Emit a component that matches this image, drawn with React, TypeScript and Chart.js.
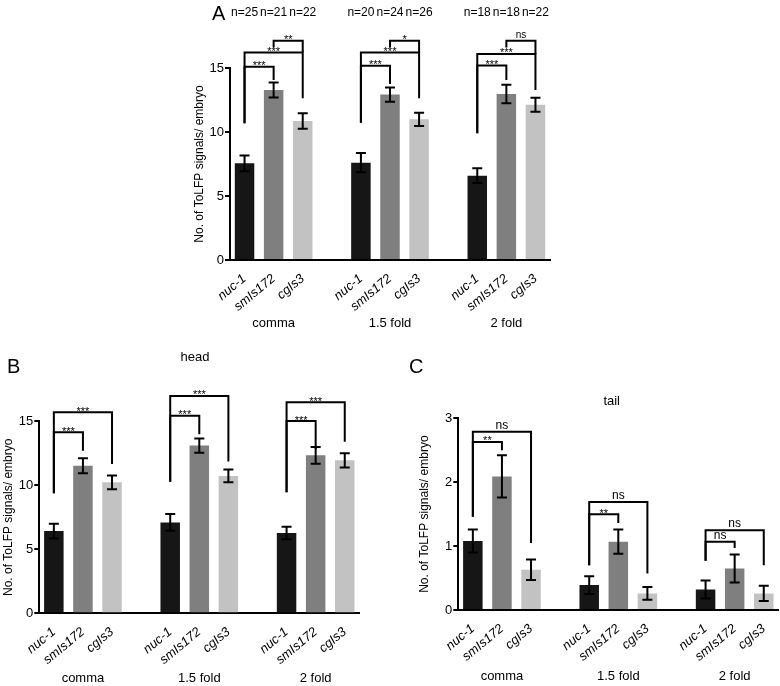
import React, { useEffect, useRef } from 'react';
import { Chart, registerables } from 'chart.js';

Chart.register(...registerables);

const FONT = "'Liberation Sans', Arial, Helvetica, sans-serif";

const stages = ['comma', '1.5 fold', '2 fold'];
const strains = ['nuc-1', 'smIs172', 'cgIs3'];
const strainColors = ['#161616', '#7f7f7f', '#c2c2c2'];
const yAxisLabel = 'No. of ToLFP signals/ embryo';

// Panel A (whole embryo)
const totalMeans = [7.55, 13.28, 10.86, 7.6, 12.92, 10.99, 6.59, 12.97, 12.13];
const totalErrors = [0.62, 0.59, 0.61, 0.75, 0.56, 0.52, 0.57, 0.73, 0.55];
const totalN = [25, 21, 22, 20, 24, 26, 18, 18, 22];
// [from bar, to bar, label, bracket top, left leg end, right leg end] (data units)
const totalBrackets: [number, number, string, number, number, number][] = [
  [0, 1, '***', 15.1, 10.68, 14.06],
  [0, 2, '***', 16.22, 10.68, 12.63],
  [1, 2, '**', 17.13, 16.6, 16.22],
  [3, 4, '***', 15.18, 10.73, 13.75],
  [3, 5, '***', 16.22, 10.73, 12.63],
  [4, 5, '*', 17.13, 16.6, 16.22],
  [6, 7, '***', 15.2, 9.9, 14.06],
  [6, 8, '***', 16.1, 9.9, 13.28],
  [7, 8, 'ns', 17.13, 16.6, 16.1],
];

// Panel B (head)
const headMeans = [6.42, 11.53, 10.23, 7.1, 13.1, 10.73, 6.28, 12.34, 11.95];
const headErrors = [0.58, 0.58, 0.53, 0.65, 0.56, 0.5, 0.49, 0.66, 0.55];
const headBrackets: [number, number, string, number, number, number][] = [
  [0, 1, '***', 14.14, 9.37, 12.7],
  [0, 2, '***', 15.7, 9.37, 11.66],
  [3, 4, '***', 15.44, 10.28, 13.98],
  [3, 5, '***', 16.98, 10.28, 11.85],
  [6, 7, '***', 15.02, 9.45, 12.84],
  [6, 8, '***', 16.48, 9.45, 13.4],
];

// Panel C (tail)
const tailMeans = [1.08, 2.09, 0.63, 0.39, 1.07, 0.26, 0.32, 0.65, 0.26];
const tailErrors = [0.18, 0.33, 0.16, 0.14, 0.19, 0.1, 0.14, 0.22, 0.12];
const tailBrackets: [number, number, string, number, number, number][] = [
  [0, 1, '**', 2.63, 1.46, 2.5],
  [0, 2, 'ns', 2.79, 1.46, 1.05],
  [3, 4, '**', 1.5, 0.7, 1.36],
  [3, 5, 'ns', 1.69, 0.7, 0.57],
  [6, 7, 'ns', 1.07, 0.77, 0.97],
  [6, 8, 'ns', 1.25, 0.77, 0.7],
];

const slotIndex = (k: number) => k + Math.floor(k / 3);

function slotLabels() {
  const out: string[] = [];
  stages.forEach((_, g) => {
    strains.forEach((s) => out.push(s));
    if (g < stages.length - 1) out.push('');
  });
  return out;
}
function slotData(values: number[]) {
  const out: (number | null)[] = [];
  values.forEach((v, k) => {
    out.push(v);
    if (k % 3 === 2 && k < values.length - 1) out.push(null);
  });
  return out;
}
function slotColors() {
  const out: string[] = [];
  stages.forEach((_, g) => {
    strainColors.forEach((c) => out.push(c));
    if (g < stages.length - 1) out.push('rgba(0,0,0,0)');
  });
  return out;
}

const annotPlugin = {
  id: 'annot',
  afterDraw(chart: any) {
    const o = chart.options.plugins.annot;
    if (!o) return;
    const { ctx, chartArea } = chart;
    const xs = chart.scales.x;
    const ys = chart.scales.y;
    const px = (k: number) => xs.getPixelForValue(slotIndex(k));
    ctx.save();
    ctx.strokeStyle = '#000';
    ctx.fillStyle = '#000';
    ctx.lineWidth = 2;
    // error bars
    o.means.forEach((m: number, k: number) => {
      const x = px(k);
      const t = ys.getPixelForValue(m + o.errors[k]);
      const b = ys.getPixelForValue(m - o.errors[k]);
      ctx.beginPath();
      ctx.moveTo(x, t);
      ctx.lineTo(x, b);
      ctx.moveTo(x - 5, t);
      ctx.lineTo(x + 5, t);
      ctx.moveTo(x - 5, b);
      ctx.lineTo(x + 5, b);
      ctx.stroke();
    });
    // significance brackets
    ctx.lineJoin = 'miter';
    o.brackets.forEach(([i, j, label, top, le, re]: [number, number, string, number, number, number]) => {
      const xl = px(i);
      const xr = px(j);
      const yt = ys.getPixelForValue(top);
      ctx.beginPath();
      ctx.moveTo(xl, ys.getPixelForValue(le));
      ctx.lineTo(xl, yt);
      ctx.lineTo(xr, yt);
      ctx.lineTo(xr, ys.getPixelForValue(re));
      ctx.stroke();
      const star = label.includes('*');
      ctx.font = `${star ? o.starSize : o.nsSize}px ${FONT}`;
      ctx.textAlign = 'center';
      ctx.textBaseline = 'alphabetic';
      ctx.fillText(label, (xl + xr) / 2, star ? yt + 2.5 : yt - 3);
    });
    // stage labels
    ctx.font = `13px ${FONT}`;
    ctx.textAlign = 'center';
    ctx.textBaseline = 'middle';
    stages.forEach((s, g) => ctx.fillText(s, px(g * 3 + 1), chartArea.bottom + o.groupDy));
    // n labels
    if (o.n) {
      ctx.font = `12px ${FONT}`;
      o.n.forEach((n: number, k: number) => ctx.fillText('n=' + n, px(k), chartArea.top + o.nDy));
    }
    // subtitle
    if (o.sub) {
      ctx.font = `13px ${FONT}`;
      ctx.fillText(o.sub.text, o.sub.x, o.sub.y);
    }
    // panel letter
    ctx.font = `20px ${FONT}`;
    ctx.textAlign = 'left';
    ctx.textBaseline = 'alphabetic';
    ctx.fillText(o.letter.text, o.letter.x, o.letter.y);
    ctx.restore();
  },
};

type PanelCfg = {
  means: number[];
  yMax: number;
  yStep: number;
  padding: { left: number; right: number; top: number; bottom: number };
  yWidth: number;
  xHeight: number;
  titlePad: number;
  annot: any;
};

function makeConfig(p: PanelCfg): any {
  return {
    type: 'bar',
    data: {
      labels: slotLabels(),
      datasets: [
        {
          data: slotData(p.means),
          backgroundColor: slotColors(),
          borderWidth: 0,
          barPercentage: 0.67,
          categoryPercentage: 1,
        },
      ],
    },
    options: {
      responsive: false,
      animation: false,
      events: [],
      layout: { padding: p.padding },
      plugins: {
        legend: { display: false },
        tooltip: { enabled: false },
        title: { display: false },
        annot: p.annot,
      },
      scales: {
        x: {
          type: 'category',
          grid: { display: false },
          border: { display: true, color: '#000', width: 2 },
          ticks: {
            autoSkip: false,
            minRotation: 40,
            maxRotation: 40,
            padding: 3,
            color: '#000',
            font: { family: FONT, size: 13, style: 'italic' },
          },
          afterFit: (s: any) => {
            s.height = p.xHeight;
          },
        },
        y: {
          min: 0,
          max: p.yMax,
          ticks: { stepSize: p.yStep, padding: 1, color: '#000', font: { family: FONT, size: 13 } },
          grid: { drawOnChartArea: false, drawTicks: true, tickLength: 5, color: '#000', lineWidth: 2 },
          border: { display: true, color: '#000', width: 2 },
          title: {
            display: true,
            text: yAxisLabel,
            color: '#000',
            font: { family: FONT, size: 12 },
            padding: { top: p.titlePad, bottom: 0 },
          },
          afterFit: (s: any) => {
            s.width = p.yWidth;
          },
        },
      },
    },
    plugins: [annotPlugin],
  };
}

const panels = [
  {
    left: 150, top: 0, width: 420, height: 340,
    cfg: {
      means: totalMeans, yMax: 15, yStep: 5,
      padding: { left: 0, right: 20, top: 68, bottom: 0 },
      yWidth: 80, xHeight: 80, titlePad: 42.8,
      annot: {
        means: totalMeans, errors: totalErrors, brackets: totalBrackets,
        starSize: 11, nsSize: 10, groupDy: 63, n: totalN, nDy: -55,
        letter: { text: 'A', x: 62, y: 20 },
      },
    },
  },
  {
    left: 0, top: 340, width: 390, height: 346,
    cfg: {
      means: headMeans, yMax: 15, yStep: 5,
      padding: { left: 0, right: 30.7, top: 81.3, bottom: 0 },
      yWidth: 39.3, xHeight: 72.7, titlePad: 1.1,
      annot: {
        means: headMeans, errors: headErrors, brackets: headBrackets,
        starSize: 11, nsSize: 11, groupDy: 64.7,
        sub: { text: 'head', x: 195, y: 17 },
        letter: { text: 'B', x: 7, y: 33 },
      },
    },
  },
  {
    left: 390, top: 340, width: 390, height: 346,
    cfg: {
      means: tailMeans, yMax: 3, yStep: 1,
      padding: { left: 0, right: 1.7, top: 78.3, bottom: 0 },
      yWidth: 68.3, xHeight: 76, titlePad: 27.8,
      annot: {
        means: tailMeans, errors: tailErrors, brackets: tailBrackets,
        starSize: 11, nsSize: 12, groupDy: 66.7,
        sub: { text: 'tail', x: 221.7, y: 61.7 },
        letter: { text: 'C', x: 19, y: 33 },
      },
    },
  },
];

export default function App() {
  const refs = [useRef<HTMLCanvasElement>(null), useRef<HTMLCanvasElement>(null), useRef<HTMLCanvasElement>(null)];
  useEffect(() => {
    Chart.defaults.font.family = FONT;
    Chart.defaults.color = '#000';
    const charts = panels.map((p, i) => new Chart(refs[i].current as HTMLCanvasElement, makeConfig(p.cfg)));
    return () => charts.forEach((c) => c.destroy());
  }, []);
  return (
    <div style={{ position: 'fixed', left: 0, top: 0, width: 780, height: 686, background: '#fff', overflow: 'hidden' }}>
      {panels.map((p, i) => (
        <canvas
          key={i}
          ref={refs[i]}
          width={p.width}
          height={p.height}
          style={{ position: 'absolute', left: p.left, top: p.top, width: p.width, height: p.height }}
        />
      ))}
    </div>
  );
}
